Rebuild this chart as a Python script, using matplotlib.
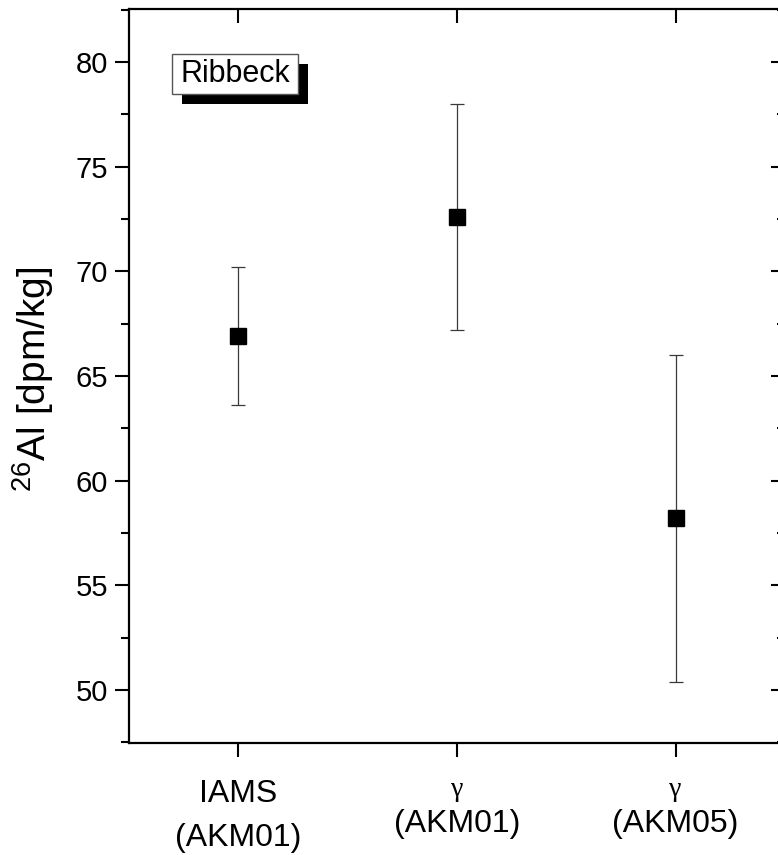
import matplotlib
matplotlib.use("Agg")
import matplotlib.pyplot as plt
from matplotlib.patches import Rectangle
from matplotlib.ticker import MultipleLocator
import matplotlib.transforms as mtransforms

plt.rcParams['font.family'] = ['Liberation Sans', 'DejaVu Sans']
plt.rcParams['mathtext.fontset'] = 'custom'
plt.rcParams['mathtext.rm'] = 'Liberation Sans'

# data
positions = [1, 2, 3]
al26 = [66.9, 72.6, 58.2]      # dpm/kg
al26_err = [3.3, 5.4, 7.8]
top_line = ['IAMS', '\u03b3', '\u03b3']
bottom_line = ['(AKM01)', '(AKM01)', '(AKM05)']

fig = plt.figure(figsize=(7.78, 8.55), dpi=100)
ax = fig.add_axes([0.1658, 0.131, 0.843, 0.8585])

ax.errorbar(positions, al26, yerr=al26_err, fmt='s', color='black',
            markersize=11.5, ecolor='#3a3a3a', elinewidth=0.9,
            capsize=5, capthick=0.9, zorder=3)

ax.set_xlim(0.5, 3.5)
ax.set_ylim(47.47, 82.53)
ax.yaxis.set_major_locator(MultipleLocator(5))
ax.yaxis.set_minor_locator(MultipleLocator(2.5))
ax.set_xticks(positions)
ax.set_xticklabels([])

for s in ax.spines.values():
    s.set_linewidth(1.6)

ax.tick_params(axis='y', which='major', direction='out', length=10, width=1.5,
               labelsize=21, pad=5)
ax.tick_params(axis='y', which='minor', direction='out', length=6, width=1.5)
ax.tick_params(axis='y', which='both', right=True)
ax.tick_params(axis='x', which='major', direction='out', length=10, width=1.5)
ax.tick_params(axis='x', which='both', top=True)

# right and top ticks point inward, left and bottom outward
for t in ax.yaxis.get_major_ticks() + ax.yaxis.get_minor_ticks():
    t.tick2line.set_marker(matplotlib.lines.TICKLEFT)
for t in ax.xaxis.get_major_ticks():
    t.tick2line.set_marker(matplotlib.lines.TICKDOWN)

ax.set_ylabel(r'$^{26}$Al [dpm/kg]', fontsize=28)
ax.yaxis.set_label_coords(-0.112, 0.495)

# two-line category labels, the gamma in a serif face
trans = mtransforms.blended_transform_factory(ax.transData, fig.transFigure)
for x, t1, t2 in zip(positions, top_line, bottom_line):
    if t1 == 'IAMS':
        ax.text(x, 1 - 802 / 855, t1, transform=trans, ha='center',
                va='baseline', fontsize=23)
        ax.text(x, 1 - 846 / 855, t2, transform=trans, ha='center',
                va='baseline', fontsize=23)
    else:
        ax.text(x, 1 - 796 / 855, t1, transform=trans, ha='center',
                va='baseline', fontsize=20, family='Liberation Serif')
        ax.text(x, 1 - 832 / 855, t2, transform=trans, ha='center',
                va='baseline', fontsize=23)

# Ribbeck label with drop shadow
ax.add_patch(Rectangle((0.0807, 0.8706), 0.1921, 0.0545, transform=ax.transAxes,
                       facecolor='black', edgecolor='none', zorder=4))
ax.add_patch(Rectangle((0.0655, 0.8842), 0.1921, 0.0545, transform=ax.transAxes,
                       facecolor='white', edgecolor='#555555', linewidth=1.0,
                       zorder=5))
ax.text(0.1616, 0.9114, 'Ribbeck', transform=ax.transAxes, ha='center',
        va='center', fontsize=22, zorder=6)

fig.savefig('out.png', dpi=100)
